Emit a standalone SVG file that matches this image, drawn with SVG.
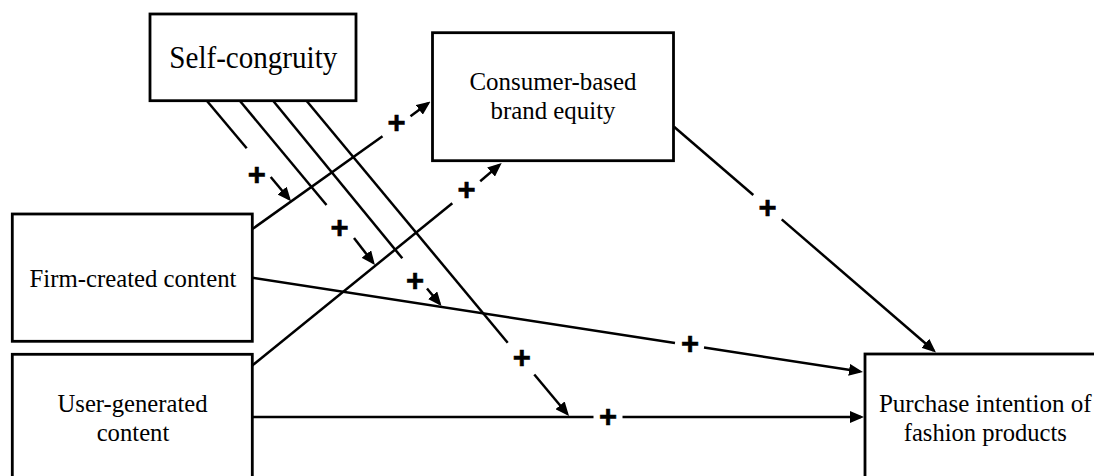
<svg xmlns="http://www.w3.org/2000/svg" width="1094" height="476" viewBox="0 0 1094 476">
<style>
.box{fill:#fff;stroke:#000;stroke-width:2.8}
.lbl{font-family:"Liberation Serif","Times New Roman",serif;font-size:24.7px;fill:#000;text-anchor:middle}
.plus{font-family:"Liberation Sans",Arial,sans-serif;font-weight:bold;font-size:31px;fill:#000;stroke:#000;stroke-width:0.6;text-anchor:middle}
.ln{stroke:#000;stroke-width:2.5;fill:none}
.arr{marker-end:url(#ah)}
</style>
<defs>
<marker id="ah" viewBox="0 0 14 12" refX="11" refY="6" markerWidth="14" markerHeight="12" markerUnits="userSpaceOnUse" orient="auto">
<path d="M0,0 L14,6 L0,12 z" fill="#000"/>
</marker>
</defs>
<rect width="1094" height="476" fill="#fff"/>
<g id="self-congruity">
<rect class="box" x="150" y="14" width="206" height="86.7"/>
<text class="lbl" x="253.3" y="68.3" style="font-size:32px" textLength="168" lengthAdjust="spacingAndGlyphs">Self-congruity</text>
</g>
<g id="cbbe">
<rect class="box" x="432.5" y="32.7" width="241" height="128"/>
<text class="lbl" x="553" y="90" textLength="167" lengthAdjust="spacingAndGlyphs">Consumer-based</text>
<text class="lbl" x="553" y="119" textLength="125" lengthAdjust="spacingAndGlyphs">brand equity</text>
</g>
<g id="fcc">
<rect class="box" x="12.3" y="214" width="240" height="127.3"/>
<text class="lbl" x="133" y="286.7" textLength="207" lengthAdjust="spacingAndGlyphs">Firm-created content</text>
</g>
<g id="ugc">
<rect class="box" x="12.3" y="354.3" width="240" height="140"/>
<text class="lbl" x="132.5" y="411.7" textLength="150" lengthAdjust="spacingAndGlyphs">User-generated</text>
<text class="lbl" x="133" y="440.7" textLength="72.7" lengthAdjust="spacingAndGlyphs">content</text>
</g>
<g id="purchase">
<rect class="box" x="865" y="354" width="240" height="140"/>
<text class="lbl" x="985.3" y="411.5" textLength="212.7" lengthAdjust="spacingAndGlyphs">Purchase intention of</text>
<text class="lbl" x="985.3" y="440.5" textLength="163" lengthAdjust="spacingAndGlyphs">fashion products</text>
</g>
<g id="connectors">
<line class="ln" x1="252" y1="229.3" x2="382.5" y2="136.2"/>
<line class="ln arr" x1="410.5" y1="116.3" x2="428.1" y2="103.3"/>
<line class="ln" x1="252" y1="365.7" x2="452.3" y2="203.3"/>
<line class="ln arr" x1="480.2" y1="181.3" x2="499.4" y2="164.9"/>
<line class="ln" x1="674" y1="126.7" x2="753.3" y2="195"/>
<line class="ln arr" x1="781.7" y1="219.4" x2="933.7" y2="350.5"/>
<line class="ln" x1="252" y1="277.7" x2="675" y2="343"/>
<line class="ln arr" x1="704" y1="347.5" x2="860" y2="371.5"/>
<line class="ln" x1="252" y1="417" x2="593.5" y2="417"/>
<line class="ln arr" x1="622.5" y1="417" x2="861" y2="417"/>
<line class="ln" x1="207" y1="101" x2="246.7" y2="148.3"/>
<line class="ln arr" x1="270.7" y1="177" x2="289.1" y2="199"/>
<line class="ln" x1="240" y1="101" x2="326.5" y2="205"/>
<line class="ln arr" x1="354" y1="238" x2="373.1" y2="262.7"/>
<line class="ln" x1="273.3" y1="101" x2="402.3" y2="258.3"/>
<line class="ln arr" x1="427" y1="288.5" x2="439.6" y2="303.7"/>
<line class="ln" x1="306.7" y1="101" x2="507.7" y2="342.8"/>
<line class="ln arr" x1="534.3" y1="374.5" x2="567.1" y2="413.7"/>
<text class="plus" x="256.7" y="184.8">+</text>
<text class="plus" x="339.5" y="237.8">+</text>
<text class="plus" x="415" y="290.8">+</text>
<text class="plus" x="521.7" y="367.8">+</text>
<text class="plus" x="396.5" y="132.8">+</text>
<text class="plus" x="466.5" y="200.3">+</text>
<text class="plus" x="767.5" y="218.3">+</text>
<text class="plus" x="690" y="354.3">+</text>
<text class="plus" x="608" y="427.3">+</text>
</g>
</svg>
